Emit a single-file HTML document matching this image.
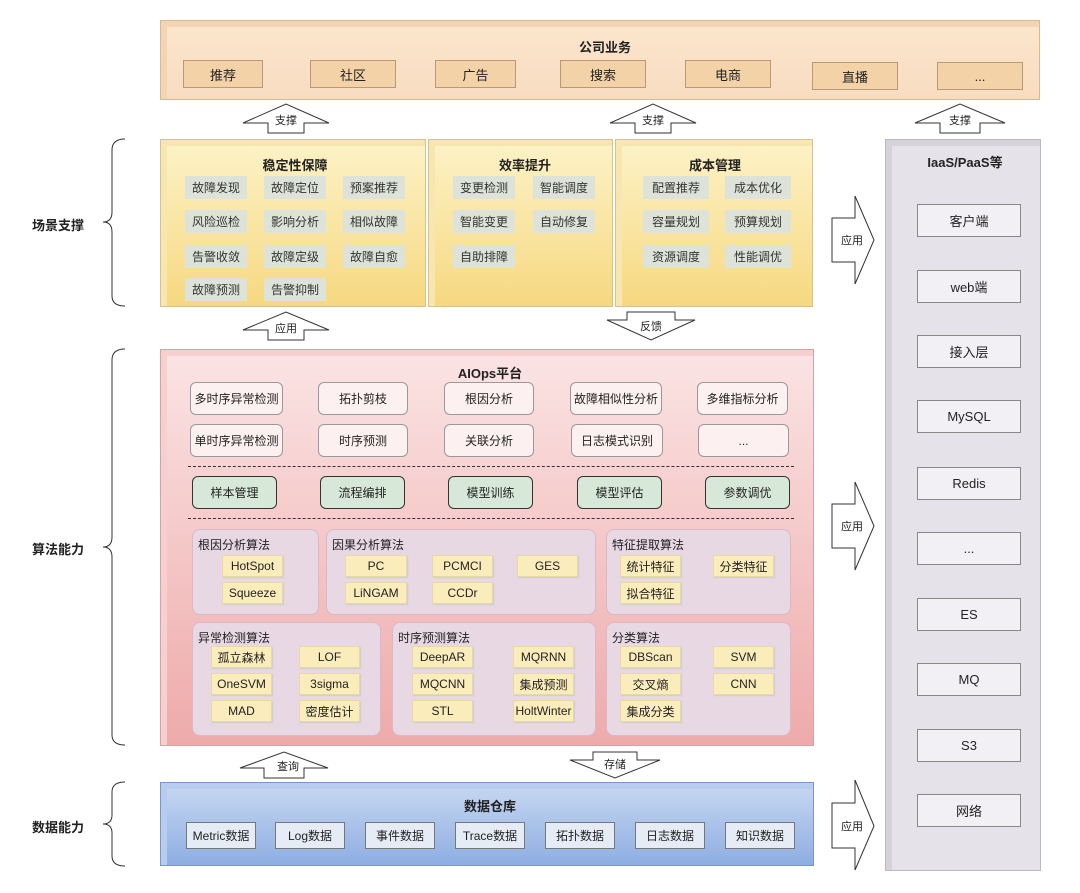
<!DOCTYPE html>
<html><head><meta charset="utf-8">
<style>
*{box-sizing:border-box;margin:0;padding:0}
body{width:1080px;height:893px;background:#fff;position:relative;overflow:hidden;font-family:"Liberation Sans","Noto Sans CJK SC",sans-serif;color:#222}
.a{position:absolute}
.b{position:absolute;display:flex;align-items:center;justify-content:center;font-size:12px;white-space:nowrap}
.t{position:absolute;font-weight:bold;font-size:13px;text-align:center}
.biz{background:#f3d2a8;border:1px solid #b89a78;font-size:13px}
.sc{background:#dde3d8;font-size:12px;color:#333}
.ai{background:#fdf0f0;border:1px solid #999;border-radius:6px}
.gr{background:#d7e8d8;border:1px solid #333;border-radius:6px}
.grp{background:#e8d8e4;border:1px solid #d9b8c8;border-radius:8px}
.gt{position:absolute;font-size:12px;left:5px;top:6px}
.al{background:#fbecbc;border:1px solid #e8d8a8;box-shadow:1px 1px 1px #ccc}
.dw{background:#e6ecf6;border:1px solid #777}
.rt{background:#f2f0f4;border:1px solid #888;font-size:13px}
.lbl{position:absolute;font-weight:bold;font-size:13px}
</style></head><body>

<!-- top business -->
<div class="a" style="left:160px;top:20px;width:880px;height:80px;background:linear-gradient(#fbe6cd,#f8dcc0);border:1px solid #d9b896;box-shadow:inset 6px 6px 0 #f3d5b3"></div>
<div class="t" style="left:560px;top:37px;width:90px">公司业务</div>
<div class="b biz" style="left:183px;top:60px;width:80px;height:28px">推荐</div>
<div class="b biz" style="left:310px;top:60px;width:86px;height:28px">社区</div>
<div class="b biz" style="left:435px;top:60px;width:81px;height:28px">广告</div>
<div class="b biz" style="left:560px;top:60px;width:86px;height:28px">搜索</div>
<div class="b biz" style="left:685px;top:60px;width:86px;height:28px">电商</div>
<div class="b biz" style="left:812px;top:62px;width:86px;height:28px">直播</div>
<div class="b biz" style="left:937px;top:62px;width:86px;height:28px">...</div>

<!-- scene boxes -->
<div class="a" style="left:160px;top:139px;width:266px;height:168px;background:linear-gradient(#fdf3c8,#f6d880);border:1px solid #d6c28a;box-shadow:inset 6px 6px 0 #f8e6b0"></div>
<div class="a" style="left:428px;top:139px;width:185px;height:168px;background:linear-gradient(#fdf3c8,#f6d880);border:1px solid #d6c28a;box-shadow:inset 6px 6px 0 #f8e6b0"></div>
<div class="a" style="left:615px;top:139px;width:198px;height:168px;background:linear-gradient(#fdf3c8,#f6d880);border:1px solid #d6c28a;box-shadow:inset 6px 6px 0 #f8e6b0"></div>
<div class="t" style="left:210px;top:155px;width:170px">稳定性保障</div>
<div class="t" style="left:440px;top:155px;width:170px">效率提升</div>
<div class="t" style="left:630px;top:155px;width:170px">成本管理</div>

<div class="b sc" style="left:185px;top:176px;width:62px;height:23px">故障发现</div>
<div class="b sc" style="left:264px;top:176px;width:62px;height:23px">故障定位</div>
<div class="b sc" style="left:343px;top:176px;width:62px;height:23px">预案推荐</div>
<div class="b sc" style="left:185px;top:210px;width:62px;height:23px">风险巡检</div>
<div class="b sc" style="left:264px;top:210px;width:62px;height:23px">影响分析</div>
<div class="b sc" style="left:343px;top:210px;width:62px;height:23px">相似故障</div>
<div class="b sc" style="left:185px;top:245px;width:62px;height:23px">告警收敛</div>
<div class="b sc" style="left:264px;top:245px;width:62px;height:23px">故障定级</div>
<div class="b sc" style="left:343px;top:245px;width:62px;height:23px">故障自愈</div>
<div class="b sc" style="left:185px;top:278px;width:62px;height:23px">故障预测</div>
<div class="b sc" style="left:264px;top:278px;width:62px;height:23px">告警抑制</div>

<div class="b sc" style="left:453px;top:176px;width:62px;height:23px">变更检测</div>
<div class="b sc" style="left:533px;top:176px;width:62px;height:23px">智能调度</div>
<div class="b sc" style="left:453px;top:210px;width:62px;height:23px">智能变更</div>
<div class="b sc" style="left:533px;top:210px;width:62px;height:23px">自动修复</div>
<div class="b sc" style="left:453px;top:245px;width:62px;height:23px">自助排障</div>

<div class="b sc" style="left:643px;top:176px;width:66px;height:23px">配置推荐</div>
<div class="b sc" style="left:725px;top:176px;width:66px;height:23px">成本优化</div>
<div class="b sc" style="left:643px;top:210px;width:66px;height:23px">容量规划</div>
<div class="b sc" style="left:725px;top:210px;width:66px;height:23px">预算规划</div>
<div class="b sc" style="left:643px;top:245px;width:66px;height:23px">资源调度</div>
<div class="b sc" style="left:725px;top:245px;width:66px;height:23px">性能调优</div>

<!-- AIOps -->
<div class="a" style="left:160px;top:349px;width:654px;height:397px;background:linear-gradient(#fbe4e4,#eeaaaa);border:1px solid #d8a0a0;box-shadow:inset 6px 6px 0 #f6d0d0"></div>
<div class="t" style="left:440px;top:363px;width:100px">AIOps平台</div>
<div class="b ai" style="left:190px;top:382px;width:93px;height:33px">多时序异常检测</div>
<div class="b ai" style="left:318px;top:382px;width:90px;height:33px">拓扑剪枝</div>
<div class="b ai" style="left:444px;top:382px;width:90px;height:33px">根因分析</div>
<div class="b ai" style="left:570px;top:382px;width:92px;height:33px">故障相似性分析</div>
<div class="b ai" style="left:697px;top:382px;width:91px;height:33px">多维指标分析</div>
<div class="b ai" style="left:190px;top:424px;width:93px;height:33px">单时序异常检测</div>
<div class="b ai" style="left:318px;top:424px;width:90px;height:33px">时序预测</div>
<div class="b ai" style="left:444px;top:424px;width:90px;height:33px">关联分析</div>
<div class="b ai" style="left:571px;top:424px;width:92px;height:33px">日志模式识别</div>
<div class="b ai" style="left:698px;top:424px;width:91px;height:33px">...</div>
<div class="a" style="left:188px;top:466px;width:606px;border-top:1.5px dashed #333"></div>
<div class="b gr" style="left:192px;top:476px;width:85px;height:33px">样本管理</div>
<div class="b gr" style="left:320px;top:476px;width:85px;height:33px">流程编排</div>
<div class="b gr" style="left:448px;top:476px;width:85px;height:33px">模型训练</div>
<div class="b gr" style="left:577px;top:476px;width:85px;height:33px">模型评估</div>
<div class="b gr" style="left:705px;top:476px;width:85px;height:33px">参数调优</div>
<div class="a" style="left:188px;top:518px;width:606px;border-top:1.5px dashed #333"></div>

<div class="a grp" style="left:192px;top:529px;width:127px;height:86px"><div class="gt">根因分析算法</div></div>
<div class="a grp" style="left:326px;top:529px;width:270px;height:86px"><div class="gt">因果分析算法</div></div>
<div class="a grp" style="left:606px;top:529px;width:185px;height:86px"><div class="gt">特征提取算法</div></div>
<div class="a grp" style="left:192px;top:622px;width:189px;height:114px"><div class="gt">异常检测算法</div></div>
<div class="a grp" style="left:392px;top:622px;width:204px;height:114px"><div class="gt">时序预测算法</div></div>
<div class="a grp" style="left:606px;top:622px;width:185px;height:114px"><div class="gt">分类算法</div></div>

<div class="b al" style="left:222px;top:555px;width:61px;height:22px">HotSpot</div>
<div class="b al" style="left:222px;top:582px;width:61px;height:22px">Squeeze</div>
<div class="b al" style="left:345px;top:555px;width:62px;height:22px">PC</div>
<div class="b al" style="left:432px;top:555px;width:61px;height:22px">PCMCI</div>
<div class="b al" style="left:517px;top:555px;width:61px;height:22px">GES</div>
<div class="b al" style="left:345px;top:582px;width:62px;height:22px">LiNGAM</div>
<div class="b al" style="left:432px;top:582px;width:61px;height:22px">CCDr</div>
<div class="b al" style="left:620px;top:555px;width:61px;height:22px">统计特征</div>
<div class="b al" style="left:713px;top:555px;width:61px;height:22px">分类特征</div>
<div class="b al" style="left:620px;top:582px;width:61px;height:22px">拟合特征</div>

<div class="b al" style="left:211px;top:646px;width:61px;height:22px">孤立森林</div>
<div class="b al" style="left:299px;top:646px;width:61px;height:22px">LOF</div>
<div class="b al" style="left:211px;top:673px;width:61px;height:22px">OneSVM</div>
<div class="b al" style="left:299px;top:673px;width:61px;height:22px">3sigma</div>
<div class="b al" style="left:211px;top:700px;width:61px;height:22px">MAD</div>
<div class="b al" style="left:299px;top:700px;width:61px;height:22px">密度估计</div>
<div class="b al" style="left:412px;top:646px;width:61px;height:22px">DeepAR</div>
<div class="b al" style="left:513px;top:646px;width:61px;height:22px">MQRNN</div>
<div class="b al" style="left:412px;top:673px;width:61px;height:22px">MQCNN</div>
<div class="b al" style="left:513px;top:673px;width:61px;height:22px">集成预测</div>
<div class="b al" style="left:412px;top:700px;width:61px;height:22px">STL</div>
<div class="b al" style="left:513px;top:700px;width:61px;height:22px">HoltWinter</div>
<div class="b al" style="left:620px;top:646px;width:61px;height:22px">DBScan</div>
<div class="b al" style="left:713px;top:646px;width:61px;height:22px">SVM</div>
<div class="b al" style="left:620px;top:673px;width:61px;height:22px">交叉熵</div>
<div class="b al" style="left:713px;top:673px;width:61px;height:22px">CNN</div>
<div class="b al" style="left:620px;top:700px;width:61px;height:22px">集成分类</div>

<!-- data warehouse -->
<div class="a" style="left:160px;top:782px;width:654px;height:84px;background:linear-gradient(#c8d8f2,#8eaee2);border:1px solid #7a95c8;box-shadow:inset 6px 6px 0 #b8ccee"></div>
<div class="t" style="left:440px;top:796px;width:100px">数据仓库</div>
<div class="b dw" style="left:186px;top:822px;width:70px;height:27px">Metric数据</div>
<div class="b dw" style="left:275px;top:822px;width:70px;height:27px">Log数据</div>
<div class="b dw" style="left:365px;top:822px;width:70px;height:27px">事件数据</div>
<div class="b dw" style="left:455px;top:822px;width:70px;height:27px">Trace数据</div>
<div class="b dw" style="left:545px;top:822px;width:70px;height:27px">拓扑数据</div>
<div class="b dw" style="left:635px;top:822px;width:70px;height:27px">日志数据</div>
<div class="b dw" style="left:725px;top:822px;width:70px;height:27px">知识数据</div>

<!-- right column -->
<div class="a" style="left:885px;top:139px;width:156px;height:732px;background:#e6e2ea;border:1px solid #bbb;box-shadow:inset 6px 6px 0 #d6d2da"></div>
<div class="t" style="left:900px;top:152px;width:130px">IaaS/PaaS等</div>
<div class="b rt" style="left:917px;top:204px;width:104px;height:33px">客户端</div>
<div class="b rt" style="left:917px;top:270px;width:104px;height:33px">web端</div>
<div class="b rt" style="left:917px;top:335px;width:104px;height:33px">接入层</div>
<div class="b rt" style="left:917px;top:400px;width:104px;height:33px">MySQL</div>
<div class="b rt" style="left:917px;top:467px;width:104px;height:33px">Redis</div>
<div class="b rt" style="left:917px;top:532px;width:104px;height:33px">...</div>
<div class="b rt" style="left:917px;top:598px;width:104px;height:33px">ES</div>
<div class="b rt" style="left:917px;top:663px;width:104px;height:33px">MQ</div>
<div class="b rt" style="left:917px;top:729px;width:104px;height:33px">S3</div>
<div class="b rt" style="left:917px;top:794px;width:104px;height:33px">网络</div>

<!-- arrows & braces -->
<svg class="a" style="left:0;top:0" width="1080" height="893" font-family="Liberation Sans,Noto Sans CJK SC,sans-serif" font-size="11">
<g fill="#fff" stroke="#333" stroke-width="1">
<path d="M243,123 L286,104 L329,123 L304,123 L304,133 L268,133 L268,123 Z"/>
<path d="M610,123 L653,104 L696,123 L671,123 L671,133 L635,133 L635,123 Z"/>
<path d="M915,123 L960,104 L1005,123 L980,123 L980,133 L940,133 L940,123 Z"/>
<path d="M243,330 L286,312 L329,330 L304,330 L304,340 L268,340 L268,330 Z"/>
<path d="M607,320 L627,320 L627,312 L675,312 L675,320 L695,320 L651,340 Z"/>
<path d="M240,768 L284,752 L328,768 L304,768 L304,778 L264,778 L264,768 Z"/>
<path d="M570,760 L593,760 L593,752 L637,752 L637,760 L660,760 L615,778 Z"/>
<path d="M832,218 L855,218 L855,196 L874,240 L855,284 L855,262 L832,262 Z"/>
<path d="M832,504 L855,504 L855,482 L874,526 L855,570 L855,548 L832,548 Z"/>
<path d="M832,803 L855,803 L855,780 L874,826 L855,870 L855,848 L832,848 Z"/>
</g>
<g fill="#222" text-anchor="middle">
<text x="286" y="124">支撑</text><text x="653" y="124">支撑</text><text x="960" y="124">支撑</text>
<text x="286" y="332">应用</text><text x="651" y="330">反馈</text>
<text x="288" y="770">查询</text><text x="615" y="768">存储</text>
<text x="852" y="244">应用</text><text x="852" y="530">应用</text><text x="852" y="830">应用</text>
</g>
<g fill="none" stroke="#333" stroke-width="1">
<path d="M125,139 Q112,139 112,150 L112,212 Q112,222 103,222 Q112,222 112,232 L112,296 Q112,306 125,306"/>
<path d="M125,349 Q112,349 112,360 L112,537 Q112,547 103,547 Q112,547 112,557 L112,735 Q112,745 125,745"/>
<path d="M125,782 Q112,782 112,792 L112,815 Q112,824 103,824 Q112,824 112,833 L112,856 Q112,866 125,866"/>
</g>
</svg>
<div class="lbl" style="left:32px;top:215px">场景支撑</div>
<div class="lbl" style="left:32px;top:539px">算法能力</div>
<div class="lbl" style="left:32px;top:817px">数据能力</div>
</body></html>
